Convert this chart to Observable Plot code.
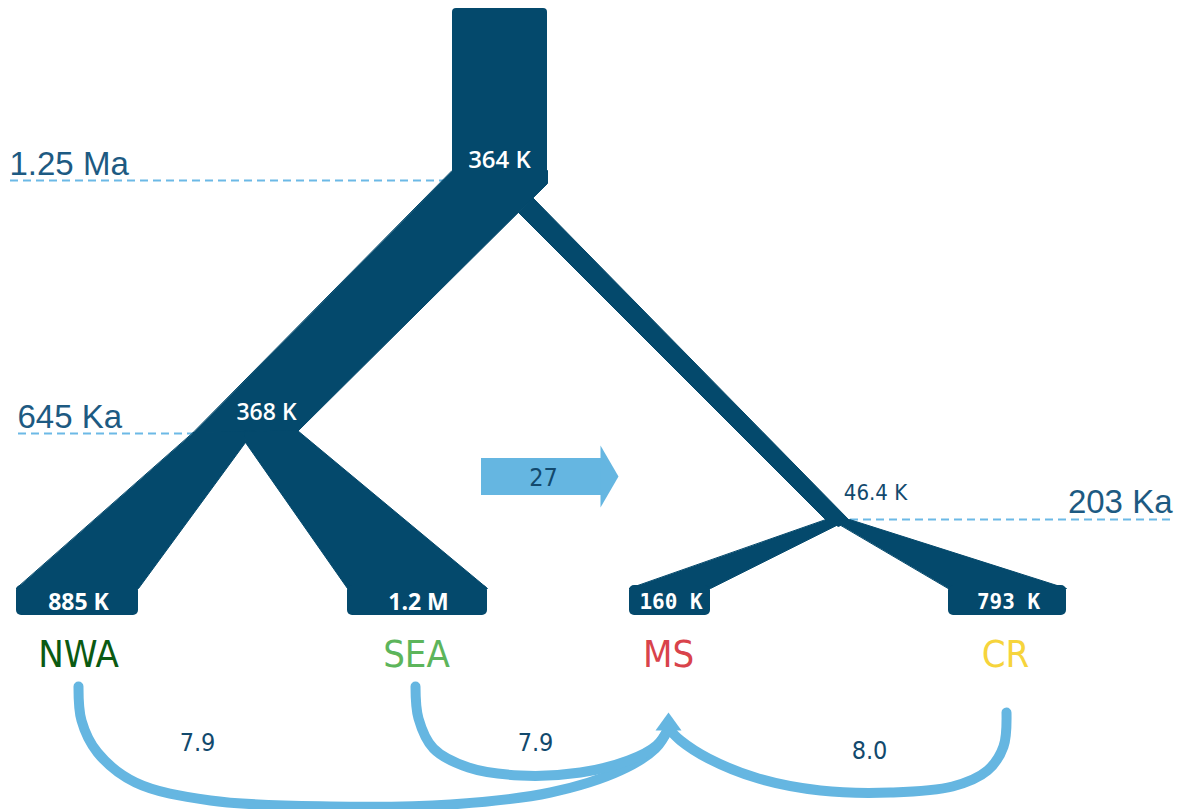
<!DOCTYPE html>
<html><head><meta charset="utf-8">
<script src="https://cdn.jsdelivr.net/npm/d3@7"></script>
<script src="https://cdn.jsdelivr.net/npm/@observablehq/plot@0.6"></script>
<style>html,body{margin:0;padding:0;background:#fff}#chart svg{display:block}</style>
</head><body><div id="chart"></div>
<script>
// ---------------- data ----------------
const demes = ["NWA", "SEA", "MS", "CR"];
const presentNe = ["885 K", "1.2 M", "160 K", "793 K"];
const ancestralNe = ["364 K", "368 K", "46.4 K"];        // root, NWA–SEA ancestor, MS–CR ancestor
const splitTimes = ["1.25 Ma", "645 Ka", "203 Ka"];
const pulseRate = ["27"];                                  // pulse NWA/SEA side -> MS/CR side
const migrationSources = ["NWA", "SEA", "CR"];             // continuous migration into MS
const migrationRates = ["7.9", "7.9", "8.0"];

// ---------------- layout (diagram frame 1182 x 809) ----------------
const W = 1182, H = 809;
const C = {
  branch: "#04496c", time: "#1d5a82", dash: "#6cb9e6", arrow: "#65b6e1", num: "#12496d",
  deme: ["#0b5a12", "#5db55b", "#d9434b", "#f6d43c"]
};
const rootBox = [{x1: 452, x2: 547, y1: 8, y2: 186}];
const branchShapes = [
  {id: "root-main", pts: [[452, 170], [547, 170], [547, 183], [297, 431], [193, 432]]},
  {id: "NWA", pts: [[193, 432], [246, 431], [245, 442], [138, 588], [16, 588]]},
  {id: "SEA", pts: [[244, 431], [297, 430], [487, 588], [347, 588], [245, 442]]},
  {id: "MS-CR", pts: [[532, 197], [849, 520], [838, 526], [826, 520], [518, 212]]},
  {id: "MS", pts: [[826, 519], [842, 522], [710, 588], [629, 588]]},
  {id: "CR", pts: [[834, 521], [849, 519], [1066, 588], [948, 588]]}
];
const capX = [[16, 138], [347, 487], [629, 710], [948, 1066]];
const capY = [585, 615];
const demeX = [78, 416, 668, 1005];
const demeLabelY = 654;
const ancNePos = [[499, 160], [266, 412], [875, 492]];
const timeLines = [[10, 452, 180], [18, 193, 433], [850, 1172, 519]];
const timeLabelPos = [[9, 174, "start"], [17, 427, "start"], [1172, 512, "end"]];
const pulseBody = [{x1: 481, x2: 603, y1: 458, y2: 495}];
const pulseHead = [[600, 445], [618, 476], [600, 507]];
const pulseLabelPos = [543, 477];
const migPaths = {
  NWA: [[78, 686], [81, 720], [97, 752], [135, 782], [210, 800], [330, 806], [450, 804], [550, 792], [620, 770], [655, 748], [668, 728]],
  SEA: [[415, 686], [418, 718], [433, 748], [468, 767], [520, 775], [580, 772], [628, 760], [656, 745], [668, 728]],
  CR:  [[1006, 712], [1003, 746], [987, 770], [952, 786], [890, 792], [820, 790], [758, 778], [708, 758], [680, 740], [668, 728]]
};
const migHead = [[668, 712], [655, 730], [681, 730]];
const migLabelPos = [[197, 742], [535, 742], [869, 750]];

// ---------------- tables built from the above ----------------
const shapeRows = branchShapes.flatMap(s => s.pts.map(([x, y]) => ({id: s.id, x, y})));
const caps = demes.map((d, i) => ({deme: d, x1: capX[i][0], x2: capX[i][1], y1: capY[0], y2: capY[1], ne: presentNe[i], cx: (capX[i][0] + capX[i][1]) / 2 + 1}));
const demeRows = demes.map((d, i) => ({deme: d, x: demeX[i], y: demeLabelY, color: C.deme[i]}));
const ancRows = ancestralNe.map((ne, i) => ({ne, x: ancNePos[i][0], y: ancNePos[i][1]}));
const dashRows = splitTimes.map((t, i) => ({t, x1: timeLines[i][0], x2: timeLines[i][1], y: timeLines[i][2]}));
const timeRows = splitTimes.map((t, i) => ({t, x: timeLabelPos[i][0], y: timeLabelPos[i][1], anchor: timeLabelPos[i][2]}));
const migRows = migrationSources.flatMap(s => migPaths[s].map(([x, y]) => ({src: s, x, y})));
const migLabelRows = migrationRates.map((r, i) => ({r, x: migLabelPos[i][0], y: migLabelPos[i][1]}));
const poly = (id, pts) => pts.map(([x, y]) => ({id, x, y}));

const sansW = "'Open Sans', 'Noto Sans', sans-serif";
const timeFont = "'Liberation Sans', Arial, sans-serif";
const condFont = "'DejaVu Sans Condensed', 'DejaVu Sans', sans-serif";

const chart = Plot.plot({
  width: W, height: H, margin: 0,
  x: {domain: [0, W], range: [0, W], axis: null},
  y: {domain: [0, H], range: [0, H], axis: null},
  style: {background: "#fff", overflow: "visible"},
  marks: [
    // split-time guide lines
    Plot.ruleY(dashRows, {x1: "x1", x2: "x2", y: "y", stroke: C.dash, strokeWidth: 2, strokeDasharray: "8,5"}),
    // tree
    Plot.rect(rootBox, {x1: "x1", x2: "x2", y1: "y1", y2: "y2", fill: C.branch, rx: 4}),
    Plot.line(shapeRows, {x: "x", y: "y", z: "id", fill: C.branch, stroke: C.branch, strokeWidth: 1, curve: "linear-closed"}),
    Plot.rect(caps, {x1: "x1", x2: "x2", y1: "y1", y2: "y2", fill: C.branch, rx: 5}),
    // Ne labels
    Plot.text(ancRows.slice(0, 1), {x: "x", y: "y", text: "ne", fill: "#fff", fontSize: 24, fontWeight: 600, fontFamily: sansW}),
    Plot.text(ancRows.slice(1, 2), {x: "x", y: "y", text: "ne", fill: "#fff", fontSize: 23, fontWeight: 600, fontFamily: sansW}),
    Plot.text(ancRows.slice(2), {x: "x", y: "y", text: "ne", fill: C.num, fontSize: 22, fontFamily: condFont}),
    Plot.text(caps.slice(0, 2), {x: "cx", y: 602, text: "ne", fill: "#fff", fontSize: 23, fontWeight: 700, fontFamily: sansW}),
    Plot.text(caps.slice(2), {x: "cx", y: 602, text: "ne", fill: "#fff", fontSize: 21, fontWeight: 700, fontFamily: "'DejaVu Sans Mono', monospace"}),
    // time labels
    Plot.text(timeRows.filter(d => d.anchor === "start"), {x: "x", y: "y", text: "t", textAnchor: "start", lineAnchor: "bottom", fill: C.time, fontSize: 33, fontFamily: timeFont}),
    Plot.text(timeRows.filter(d => d.anchor === "end"), {x: "x", y: "y", text: "t", textAnchor: "end", lineAnchor: "bottom", fill: C.time, fontSize: 33, fontFamily: timeFont}),
    // pulse arrow
    Plot.rect(pulseBody, {x1: "x1", x2: "x2", y1: "y1", y2: "y2", fill: C.arrow}),
    Plot.line(poly("head", pulseHead), {x: "x", y: "y", fill: C.arrow, stroke: "none", curve: "linear-closed"}),
    Plot.text(pulseRate, {x: pulseLabelPos[0], y: pulseLabelPos[1], text: d => d, fill: C.num, fontSize: 25, fontFamily: condFont}),
    // deme names
    Plot.text(demeRows, {x: "x", y: "y", text: "deme", fill: "color", fontSize: 38, fontFamily: condFont}),
    // continuous migration into MS
    Plot.line(migRows, {x: "x", y: "y", z: "src", stroke: C.arrow, strokeWidth: 10, curve: "catmull-rom"}),
    Plot.line(poly("mhead", migHead), {x: "x", y: "y", fill: C.arrow, stroke: "none", curve: "linear-closed"}),
    Plot.text(migLabelRows, {x: "x", y: "y", text: "r", fill: C.num, fontSize: 25, fontFamily: condFont})
  ]
});
document.getElementById("chart").append(chart);
</script>
</body></html>
